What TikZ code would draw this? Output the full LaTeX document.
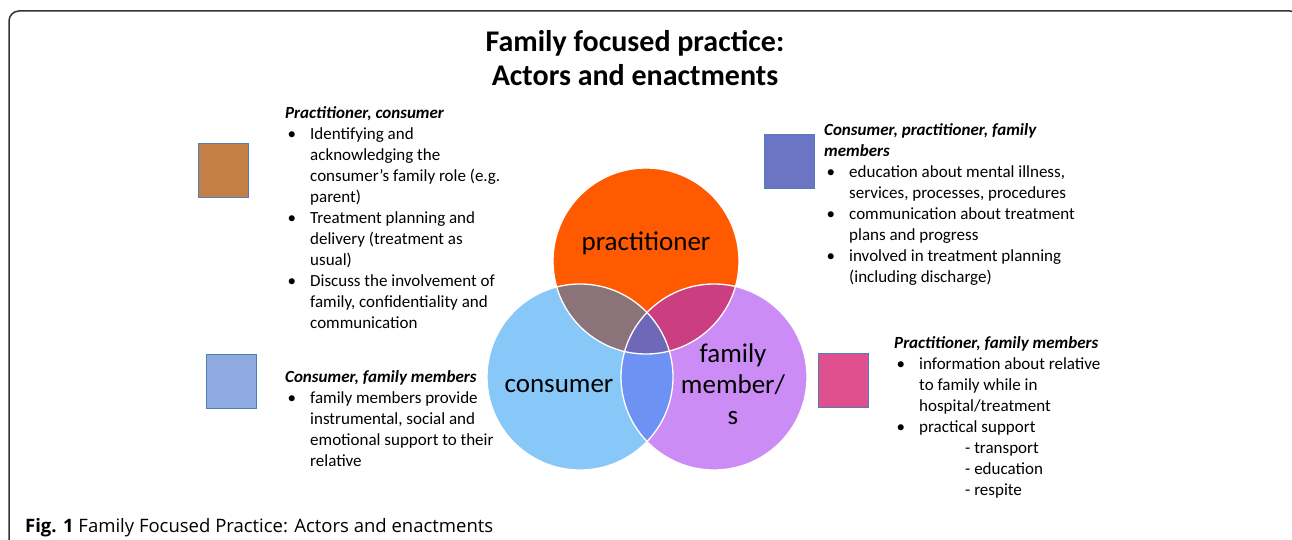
\documentclass[tikz,border=0pt]{standalone}
\usepackage{fontspec}
\setmainfont{Carlito}
\newfontfamily\capfont{Open Sans}
\definecolor{cP}{RGB}{255,90,0}
\definecolor{cC}{RGB}{136,200,248}
\definecolor{cF}{RGB}{204,140,245}
\definecolor{cPC}{RGB}{138,116,121}
\definecolor{cPF}{RGB}{203,62,128}
\definecolor{cCF}{RGB}{110,146,243}
\definecolor{cPCF}{RGB}{111,104,184}
\definecolor{sqA}{RGB}{196,127,71}
\definecolor{sqB}{RGB}{143,170,224}
\definecolor{sqC}{RGB}{108,116,196}
\definecolor{sqD}{RGB}{224,80,142}
\definecolor{sqborder}{RGB}{80,126,187}
\newcommand{\bul}{\makebox[25pt][l]{\hspace{2.5pt}\textbullet}}
\newcommand{\ind}{\hspace*{25pt}}
\newcommand{\hd}[1]{\textbf{\textit{#1}}}
\begin{document}
\begin{tikzpicture}[x=1pt,y=-1pt,
  blk/.style={font=\fontsize{17}{21}\selectfont, align=left, inner sep=0pt, anchor=north west},
  sqbox/.style={draw=sqborder, line width=0.8pt, minimum width=50pt, minimum height=54pt, inner sep=0pt},
  lab/.style={font=\fontsize{27}{31}\selectfont, inner sep=0pt},
  outline/.style={draw=white, line width=1.3pt}]
\useasboundingbox (0,0) rectangle (1292,540);
\clip (0,0) rectangle (1292,540);
\fill[white] (0,0) rectangle (1292,540);
% frame
\draw[line width=1.5pt, black!80, rounded corners=10pt] (9,560) -- (9,11) -- (1300,11) -- (1300,560);
% title
\node[font=\bfseries\fontsize{30}{34}\selectfont, align=center, inner sep=0pt, anchor=north] (title) at (635,27.2) {\strut Family focused practice:\\Actors and enactments};
% venn
\coordinate (P) at (646,261);
\coordinate (C) at (580,377);
\coordinate (F) at (714,377);
\fill[cP] (P) circle[radius=93pt];
\fill[cC] (C) circle[radius=93pt];
\fill[cF] (F) circle[radius=93pt];
\begin{scope}
  \clip (P) circle[radius=93pt];
  \fill[cPC] (C) circle[radius=93pt];
  \fill[cPF] (F) circle[radius=93pt];
\end{scope}
\begin{scope}
  \clip (C) circle[radius=93pt];
  \fill[cCF] (F) circle[radius=93pt];
\end{scope}
\begin{scope}
  \clip (P) circle[radius=93pt];
  \clip (C) circle[radius=93pt];
  \fill[cPCF] (F) circle[radius=93pt];
\end{scope}
\draw[outline] (P) circle[radius=93pt];
\draw[outline] (C) circle[radius=93pt];
\draw[outline] (F) circle[radius=93pt];
\node[lab, anchor=base] (lp) at (646,250) {practitioner};
\node[lab, anchor=base] (lc) at (559,392) {consumer};
\node[lab, anchor=north, align=center] (lf) at (733,340.3) {\strut family\\member/\\s};
% squares
\node[sqbox, fill=sqA] (s1) at (223,170.5) {};
\node[sqbox, fill=sqB] (s2) at (231.5,381) {};
\node[sqbox, fill=sqC] (s3) at (789,161) {};
\node[sqbox, fill=sqD] (s4) at (843,380.5) {};
% text blocks
\node[blk] (b1) at (285,103.3) {\strut\hd{Practitioner, consumer}\\
\bul Identifying and\\
\ind acknowledging the\\
\ind consumer’s family role (e.g.\\
\ind parent)\\
\bul Treatment planning and\\
\ind delivery (treatment as\\
\ind usual)\\
\bul Discuss the involvement of\\
\ind family, confidentiality and\\
\ind communication};
\node[blk] (b2) at (824,120.3) {\strut\hd{Consumer, practitioner, family}\\
\hd{members}\\
\bul education about mental illness,\\
\ind services, processes, procedures\\
\bul communication about treatment\\
\ind plans and progress\\
\bul involved in treatment planning\\
\ind (including discharge)};
\node[blk] (b3) at (894,333.3) {\strut\hd{Practitioner, family members}\\
\bul information about relative\\
\ind to family while in\\
\ind hospital/treatment\\
\bul practical support\\
\hspace*{71pt}- transport\\
\hspace*{71pt}- education\\
\hspace*{71pt}- respite};
\node[blk] (b4) at (285,367.3) {\strut\hd{Consumer, family members}\\
\bul family members provide\\
\ind instrumental, social and\\
\ind emotional support to their\\
\ind relative};
% caption
\node[anchor=base west, inner sep=0pt, font=\capfont\fontsize{18.5}{22}\selectfont] (cap) at (25,532) {\textbf{Fig. 1} Family Focused Practice: Actors and enactments};
\end{tikzpicture}
\end{document}
